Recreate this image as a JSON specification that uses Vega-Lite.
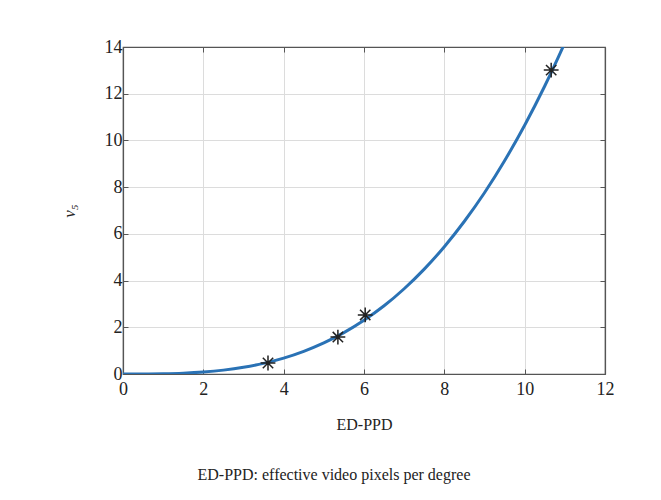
{
  "$schema": "https://vega.github.io/schema/vega-lite/v6.json",
  "width": 482,
  "height": 327,
  "autosize": {"type": "none"},
  "padding": {"left": 123, "top": 47, "right": 56, "bottom": 126},
  "background": "white",
  "title": {
    "text": "ED-PPD: effective video pixels per degree",
    "orient": "bottom",
    "anchor": "middle",
    "dx": -30,
    "offset": 35,
    "font": "Liberation Serif, Times New Roman, DejaVu Serif, serif",
    "fontSize": 16,
    "fontWeight": "normal",
    "color": "#222"
  },
  "config": {
    "view": {"stroke": "#555", "strokeWidth": 1.2},
    "axis": {
      "labelFont": "Liberation Serif, Times New Roman, DejaVu Serif, serif",
      "labelFontSize": 18,
      "labelColor": "#222",
      "labelFlush": false,
      "titleFont": "Liberation Serif, Times New Roman, DejaVu Serif, serif",
      "titleFontSize": 16,
      "titleFontWeight": "normal",
      "titleColor": "#222",
      "domainColor": "#555",
      "domainWidth": 1.2,
      "tickColor": "#555",
      "tickSize": -5,
      "gridColor": "#dcdcdc",
      "gridWidth": 1
    }
  },
  "datasets": {
    "curve": [
      {"x": 0, "y": 0},
      {"x": 0.5, "y": 0.0013},
      {"x": 1, "y": 0.011},
      {"x": 1.5, "y": 0.036},
      {"x": 2, "y": 0.085},
      {"x": 2.5, "y": 0.166},
      {"x": 3, "y": 0.287},
      {"x": 3.5, "y": 0.456},
      {"x": 4, "y": 0.68},
      {"x": 4.5, "y": 0.97},
      {"x": 5, "y": 1.33},
      {"x": 5.5, "y": 1.77},
      {"x": 6, "y": 2.3},
      {"x": 6.5, "y": 2.92},
      {"x": 7, "y": 3.65},
      {"x": 7.5, "y": 4.49},
      {"x": 8, "y": 5.45},
      {"x": 8.5, "y": 6.54},
      {"x": 9, "y": 7.76},
      {"x": 9.5, "y": 9.13},
      {"x": 10, "y": 10.65},
      {"x": 10.5, "y": 12.33},
      {"x": 11, "y": 14.18},
      {"x": 11.2, "y": 14.96}
    ],
    "stars": [
      {"x": 3.61, "y": 0.47},
      {"x": 5.35, "y": 1.58},
      {"x": 6.03, "y": 2.53},
      {"x": 10.66, "y": 13.01}
    ]
  },
  "layer": [
    {
      "data": {"name": "curve"},
      "mark": {"type": "line", "color": "#2a72b5", "strokeWidth": 3, "clip": true, "interpolate": "monotone"},
      "encoding": {
        "x": {
          "field": "x", "type": "quantitative",
          "scale": {"domain": [0, 12], "nice": false, "zero": false},
          "axis": {"orient": "bottom", "values": [0, 2, 4, 6, 8, 10, 12], "title": "ED-PPD", "labelPadding": 11, "titlePadding": 18, "grid": true}
        },
        "y": {
          "field": "y", "type": "quantitative",
          "scale": {"domain": [0, 14], "nice": false},
          "axis": {"orient": "left", "values": [0, 2, 4, 6, 8, 10, 12, 14], "title": "v₅", "titleFontStyle": "italic", "titleFontSize": 17, "labelPadding": 6, "titlePadding": 26, "grid": true}
        }
      }
    },
    {
      "data": {"name": "stars"},
      "mark": {
        "type": "point",
        "shape": "M-1,0L1,0M0,-1L0,1M-0.7,-0.7L0.7,0.7M-0.7,0.7L0.7,-0.7",
        "size": 220,
        "stroke": "#222",
        "strokeWidth": 1.5,
        "filled": false,
        "opacity": 1
      },
      "encoding": {
        "x": {
          "field": "x", "type": "quantitative",
          "axis": {"orient": "top", "values": [0, 2, 4, 6, 8, 10, 12], "labels": false, "title": null, "grid": false}
        },
        "y": {
          "field": "y", "type": "quantitative",
          "axis": {"orient": "right", "values": [0, 2, 4, 6, 8, 10, 12, 14], "labels": false, "title": null, "grid": false}
        }
      }
    }
  ],
  "resolve": {"axis": {"x": "independent", "y": "independent"}}
}
